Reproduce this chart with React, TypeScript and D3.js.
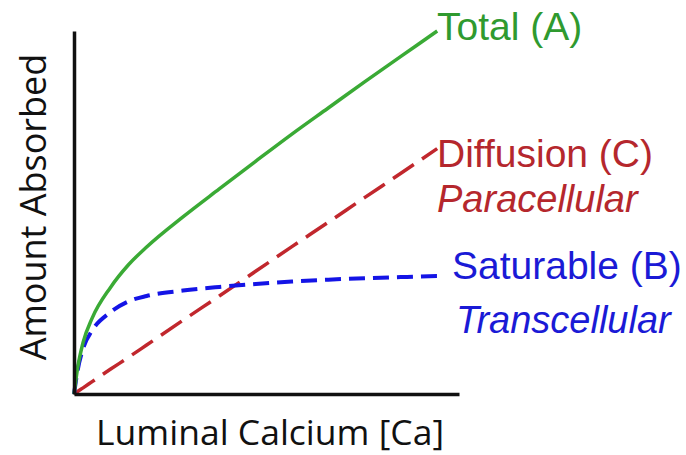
import { useEffect, useRef } from 'react'
import * as d3 from 'd3'

// luminal calcium (arbitrary units, 0-100)
const calcium = [0, 1, 2.5, 5, 10, 15, 20, 30, 40, 50, 60, 70, 80, 90, 100]
// amount absorbed (arbitrary units, 0-100)
const saturable = [0, 6.5, 12.5, 17.5, 22.5, 25.5, 27, 28.5, 29.5, 30.3, 31, 31.5, 31.9, 32.2, 32.5]
const diffusion = [0, 0.7, 1.7, 3.4, 6.8, 10.1, 13.5, 20.3, 27, 33.8, 40.6, 47.3, 54.1, 60.8, 67.6]
const total = [0, 7.2, 14.2, 20.9, 29.3, 35.6, 40.5, 48.8, 56.5, 64.1, 71.6, 78.8, 86, 93, 100]

const xLabel = 'Luminal Calcium [Ca]'
const yLabel = 'Amount Absorbed'

const WIDTH = 686
const HEIGHT = 455

export default function App() {
  const svgRef = useRef<SVGSVGElement>(null)

  useEffect(() => {
    if (!svgRef.current) return
    const svg = d3.select(svgRef.current)
    svg.selectAll('*').remove()

    const x = d3.scaleLinear().domain([0, 106]).range([74, 459])
    const y = d3.scaleLinear().domain([0, 100]).range([394, 31])

    const line = (vals: number[]) =>
      d3.line<number>()
        .x((_, i) => x(calcium[i]))
        .y(d => y(d))
        .curve(d3.curveMonotoneX)(vals)

    // Diffusion (paracellular)
    svg.append('path')
      .attr('d', line(diffusion))
      .attr('fill', 'none')
      .attr('stroke', '#c1272d')
      .attr('stroke-width', 3.5)
      .attr('stroke-dasharray', '25,10')

    // Saturable (transcellular)
    svg.append('path')
      .attr('d', line(saturable))
      .attr('fill', 'none')
      .attr('stroke', '#1414e6')
      .attr('stroke-width', 4)
      .attr('stroke-dasharray', '16,8')

    // Total
    svg.append('path')
      .attr('d', line(total))
      .attr('fill', 'none')
      .attr('stroke', '#3aaa35')
      .attr('stroke-width', 3.5)

    // Axes (no ticks)
    svg.append('g')
      .attr('transform', `translate(0,${y(0)})`)
      .call(d3.axisBottom(x).ticks(0).tickSizeOuter(0))
      .call(g => g.select('.domain').attr('stroke', '#111').attr('stroke-width', 3.5))

    svg.append('g')
      .attr('transform', `translate(${x(0)},0)`)
      .call(d3.axisLeft(y).ticks(0).tickSizeOuter(0))
      .call(g => g.select('.domain').attr('stroke', '#111').attr('stroke-width', 3.5))

    svg.append('text')
      .attr('x', 270)
      .attr('y', 445)
      .attr('text-anchor', 'middle')
      .attr('font-family', 'Open Sans')
      .attr('font-size', 35.5)
      .attr('fill', '#111')
      .text(xLabel)

    svg.append('text')
      .attr('transform', 'translate(46,207) rotate(-90)')
      .attr('text-anchor', 'middle')
      .attr('font-family', 'Open Sans')
      .attr('font-size', 36)
      .attr('fill', '#111')
      .text(yLabel)

    const labels = [
      { text: 'Total (A)', x: 437, y: 40, color: '#2f9a2f', italic: false },
      { text: 'Diffusion (C)', x: 437, y: 167, color: '#b5272d', italic: false },
      { text: 'Paracellular', x: 437, y: 212, color: '#b5272d', italic: true },
      { text: 'Saturable (B)', x: 452, y: 279, color: '#1a1ad6', italic: false },
      { text: 'Transcellular', x: 456, y: 333, color: '#1a1ad6', italic: true },
    ]
    svg.selectAll('text.lbl')
      .data(labels)
      .enter().append('text')
      .attr('class', 'lbl')
      .attr('x', d => d.x)
      .attr('y', d => d.y)
      .attr('font-family', 'Liberation Sans, Arial, sans-serif')
      .attr('font-size', d => (d.italic ? 38 : 39))
      .attr('font-style', d => (d.italic ? 'italic' : 'normal'))
      .attr('fill', d => d.color)
      .text(d => d.text)
  }, [])

  return (
    <svg
      ref={svgRef}
      width={WIDTH}
      height={HEIGHT}
      style={{ position: 'absolute', left: 0, top: 0, background: '#fff' }}
    />
  )
}
